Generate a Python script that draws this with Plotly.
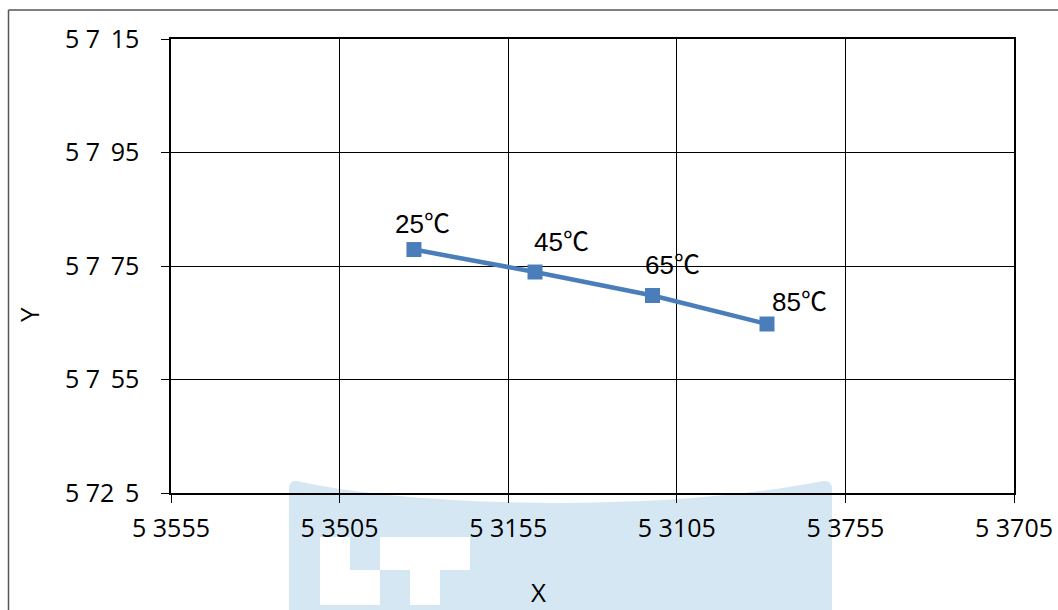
import plotly.graph_objects as go

# ---- data (axis units; ticks are evenly spaced, labels) ----
x_tick_vals = [0, 1, 2, 3, 4, 5]
x_tick_text = ["5 3555", "5 3505", "5 3155", "5 3105", "5 3755", "5 3705"]
y_tick_vals = [0, 1, 2, 3, 4]
y_tick_text = ["5 72\u2009 5", "5 7\u2009 55", "5 7\u2009 75", "5 7\u2009 95", "5 7\u2009 15"]

temps = ["25℃", "45℃", "65℃", "85℃"]
x_vals = [1.441, 2.159, 2.856, 3.535]
y_vals = [2.145, 1.947, 1.740, 1.489]

# label offsets (pixels, style only)
label_dx = [9, 26, 20, 32]
label_dy = [26, 30, 31, 22]

L, R, T, B = 171, 1014, 39, 493
W, H = 1058, 610


def px(x):
    return (x - L) / (R - L)


def py(y):
    return (B - y) / (B - T)


fig = go.Figure()
fig.add_trace(go.Scatter(
    x=x_vals, y=y_vals, mode="lines+markers",
    line=dict(color="#4A7EBB", width=4.5),
    marker=dict(symbol="square", size=15, color="#4A7EBB"),
    showlegend=False, hoverinfo="skip",
))

annotations = []
for t, xv, yv, dx, dy in zip(temps, x_vals, y_vals, label_dx, label_dy):
    annotations.append(dict(
        x=xv, y=yv, xref="x", yref="y", text=t, showarrow=False,
        xshift=dx, yshift=dy, xanchor="center", yanchor="middle",
        font=dict(family="Liberation Sans, Noto Sans CJK SC", size=26, color="#000"),
    ))
annotations.append(dict(x=px(538), y=py(592), xref="paper", yref="paper", text="X",
                        showarrow=False, xanchor="center", yanchor="middle",
                        font=dict(family="Open Sans", size=26, color="#000")))
annotations.append(dict(x=px(29), y=py(315), xref="paper", yref="paper", text="Y",
                        showarrow=False, xanchor="center", yanchor="middle", textangle=-90,
                        font=dict(family="Open Sans", size=26, color="#000")))

# watermark-like background shape and outer frame (kept inside the page)
path = (f"M {px(289)},{py(610)} L {px(289)},{py(489)} "
        f"Q {px(289)},{py(480)} {px(297)},{py(481)} "
        f"C {px(400)},{py(505)} {px(650)},{py(515)} {px(823)},{py(481)} "
        f"Q {px(832)},{py(480)} {px(832)},{py(489)} "
        f"L {px(832)},{py(610)} Z")
shapes = [
    dict(type="path", path=path, xref="paper", yref="paper", layer="below",
         fillcolor="#D6E7F4", line=dict(width=0)),
]
for (x0, y0, x1, y1) in [(320, 537, 350, 570), (380, 537, 470, 570),
                         (320, 570, 380, 605), (410, 570, 440, 605)]:
    shapes.append(dict(type="rect", xref="paper", yref="paper", layer="below",
                       x0=px(x0), x1=px(x1), y0=py(y0), y1=py(y1),
                       fillcolor="#FFFFFF", line=dict(width=0)))
shapes.append(dict(type="line", xref="paper", yref="paper", x0=px(8.5), x1=px(8.5),
                   y0=py(10), y1=py(610), line=dict(color="#555555", width=1.5)))
shapes.append(dict(type="line", xref="paper", yref="paper", x0=px(8.5), x1=px(1058),
                   y0=py(10), y1=py(10), line=dict(color="#555555", width=1.5)))

fig.update_layout(
    width=W, height=H,
    margin=dict(l=L, r=W - R, t=T, b=H - B, pad=0, autoexpand=False),
    paper_bgcolor="#FFFFFF", plot_bgcolor="rgba(0,0,0,0)",
    annotations=annotations, shapes=shapes,
    font=dict(family="Open Sans", size=25, color="#000"),
)
fig.update_xaxes(
    range=[0, 5], tickvals=x_tick_vals, ticktext=x_tick_text,
    showgrid=True, gridcolor="#000", gridwidth=1, zeroline=False,
    showline=True, linecolor="#000", linewidth=1.5, mirror=True,
    ticks="outside", ticklen=8, tickcolor="#000", ticklabelstandoff=4,
    tickfont=dict(family="Open Sans", size=25, color="#000"), automargin=False,
)
fig.update_yaxes(
    range=[0, 4], tickvals=y_tick_vals, ticktext=y_tick_text,
    showgrid=True, gridcolor="#000", gridwidth=1, zeroline=False,
    showline=True, linecolor="#000", linewidth=1.5, mirror=True,
    ticks="outside", ticklen=8, tickcolor="#000", ticklabelstandoff=17,
    tickfont=dict(family="Open Sans", size=25, color="#000"), automargin=False,
)

fig.write_html(
    "out.html",
    config={"displayModeBar": False},
    post_script="document.body.style.margin='0';document.body.style.overflow='hidden';",
)
